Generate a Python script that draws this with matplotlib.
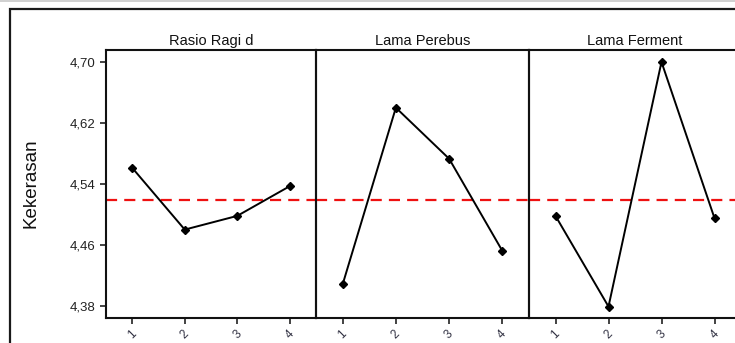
import matplotlib
matplotlib.use("Agg")
import matplotlib.pyplot as plt
from matplotlib.patches import Rectangle

plt.rcParams['font.family'] = ['Liberation Sans', 'DejaVu Sans']

factors = ["Rasio Ragi d", "Lama Perebus", "Lama Ferment"]
levels = [1, 2, 3, 4]
rasio_ragi = [4.561, 4.480, 4.498, 4.537]
lama_perebus = [4.408, 4.640, 4.573, 4.452]
lama_ferment = [4.498, 4.379, 4.700, 4.495]
series = [rasio_ragi, lama_perebus, lama_ferment]
mean_value = 4.519
y_ticks = [4.38, 4.46, 4.54, 4.62, 4.70]
y_tick_labels = ["4,38", "4,46", "4,54", "4,62", "4,70"]
y_label = "Kekerasan"

W, H = 735, 343
fig = plt.figure(figsize=(W / 100, H / 100), dpi=100)

# outer frame
fig.patches.append(Rectangle((10 / W, -0.1), 2.0, (H - 9) / H + 0.1, transform=fig.transFigure,
                             fill=False, edgecolor='#1a1a1a', linewidth=1.6))
fig.add_artist(plt.Line2D([0, 1], [1 - 0.5 / H, 1 - 0.5 / H], transform=fig.transFigure,
                          color='#c8c8c8', linewidth=1.2))

edges = [106, 316, 529, 741]
top, bottom = 50, 318
tick_color = '#333344'
for i, (name, vals) in enumerate(zip(factors, series)):
    l, r = edges[i], edges[i + 1]
    ax = fig.add_axes([l / W, (H - bottom) / H, (r - l) / W, (bottom - top) / H])
    ax.plot(levels, vals, color='black', linewidth=1.4, marker='D', markersize=4.2,
            markerfacecolor='black', zorder=3)
    ax.axhline(mean_value, color='#ee1111', linestyle=(0, (5, 3.2)), linewidth=1.6, zorder=2)
    ax.set_xlim(0.5, 4.5)
    ax.set_ylim(4.364, 4.7157)
    ax.set_xticks(levels)
    ax.set_xticklabels([str(v) for v in levels], rotation=45, fontsize=8.5, color=tick_color)
    ax.set_yticks(y_ticks)
    if i == 0:
        ax.set_yticklabels(y_tick_labels, fontsize=9.5, color='#222222')
    else:
        ax.tick_params(axis='y', left=False, labelleft=False)
    ax.tick_params(axis='both', direction='out', length=4.5, width=1.2, color='#222222', pad=3)
    for sp in ax.spines.values():
        sp.set_linewidth(1.5)
        sp.set_color('#111111')
    ax.patch.set_alpha(0)
    fig.text((l + r) / 2 / W, (H - 45) / H, name, ha='center', va='baseline',
             fontsize=10.5, color='#111111')

fig.text(31 / W, (H - 183) / H, y_label, rotation=90, ha='center', va='center',
         fontsize=13.5, color='#111111')

fig.savefig("out.png", dpi=100)
